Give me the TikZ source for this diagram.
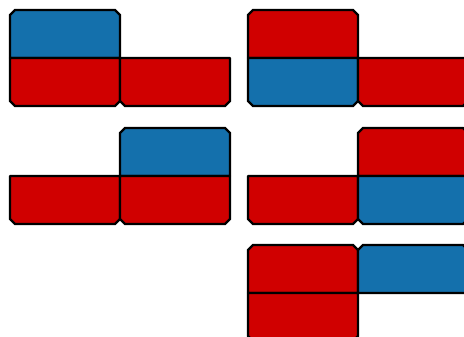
\documentclass[tikz,border=0pt]{standalone}
\usetikzlibrary{calc}
\definecolor{cellred}{RGB}{208,0,0}
\definecolor{cellblue}{RGB}{20,112,172}
\tikzset{
  rc/.style={fill=cellred,draw=black,line width=1.4pt,line join=round},
  bc/.style={fill=cellblue,draw=black,line width=1.4pt,line join=round},
}
% one cell: style, left x, top y, corner cuts tl tr br bl
\newcommand{\tcell}[7]{%
  \draw[#1] (#2+#4,#3) -- (#2+110-#5,#3) -- (#2+110,#3+#5) -- (#2+110,#3+48-#6)
    -- (#2+110-#6,#3+48) -- (#2+#7,#3+48) -- (#2,#3+48-#7) -- (#2,#3+#4) -- cycle;}

\begin{document}
\begin{tikzpicture}[x=0.02cm,y=-0.02cm]
  \useasboundingbox (0,0) rectangle (464,337);
  \clip (0,0) rectangle (464,337);
  % top left
  \tcell{bc}{10}{10}{5}{5}{0}{0}
  \tcell{rc}{10}{58}{0}{0}{5}{5}
  \tcell{rc}{120}{58}{0}{0}{5}{5}
  % top right
  \tcell{rc}{248}{10}{5}{5}{0}{0}
  \tcell{bc}{248}{58}{0}{0}{5}{5}
  \tcell{rc}{358}{58}{0}{0}{5}{5}
  % middle left
  \tcell{bc}{120}{128}{5}{5}{0}{0}
  \tcell{rc}{10}{176}{0}{0}{5}{5}
  \tcell{rc}{120}{176}{0}{0}{5}{5}
  % middle right
  \tcell{rc}{358}{128}{5}{5}{0}{0}
  \tcell{rc}{248}{176}{0}{0}{5}{5}
  \tcell{bc}{358}{176}{0}{0}{5}{5}
  % bottom right
  \tcell{rc}{248}{245}{5}{5}{0}{0}
  \tcell{bc}{358}{245}{5}{5}{0}{0}
  \tcell{rc}{248}{293}{0}{0}{5}{5}
\end{tikzpicture}
\end{document}
